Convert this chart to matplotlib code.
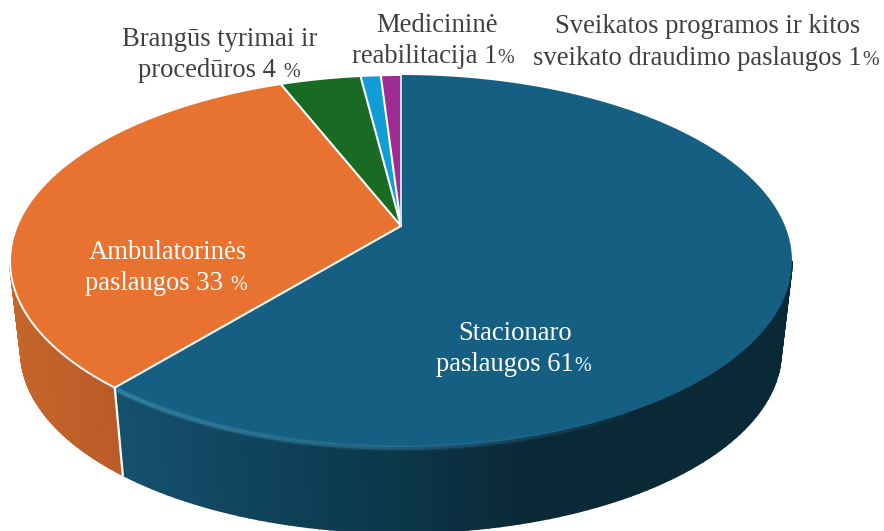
import numpy as np
import matplotlib
matplotlib.use("Agg")
import matplotlib.pyplot as plt
from matplotlib.patches import Polygon
from matplotlib.collections import LineCollection
from matplotlib.colors import to_rgb

shares = [61, 33, 4, 1, 1]
top_colors = ["#156082", "#E8722F", "#196B24", "#0F9ED5", "#A02B93"]
wall_stops = {
    0: ([122, 300, 540, 790], ["#15506D", "#0E3F57", "#0A2836", "#0A2836"]),
    1: ([10, 120], ["#C4652C", "#BA5B28"]),
}
labels_out = [
    ("Brangūs tyrimai ir", "", 122, 46),
    ("procedūros 4 ", "%", 138, 77),
    ("Medicininė", "", 376, 32),
    ("reabilitacija 1", "%", 352, 63),
    ("Sveikatos programos ir kitos", "", 555, 33),
    ("sveikato draudimo paslaugos 1", "%", 533, 65),
]
labels_in = [
    ("Ambulatorinės", "", 89, 259),
    ("paslaugos 33 ", "%", 85, 290),
    ("Stacionaro", "", 458, 340),
    ("paslaugos 61", "%", 436, 371),
]

CX, APEX_Y, A, B, K = 401, 226, 384, 179.4, 0.188
WALL_SCALE, WALL_APEX_Y = 0.972, 318


def rim(theta, scale=1.0, apex=APEX_Y):
    """Project clockwise-from-north angles onto the tilted pie plane."""
    x, y = np.sin(theta), np.cos(theta)
    d = 1 + K * y
    return CX + scale * A * x / d, apex - scale * B * y / d


fig = plt.figure(figsize=(8.84, 5.31), dpi=100)
ax = fig.add_axes([0, 0, 1, 1])
ax.set_xlim(0, 884)
ax.set_ylim(531, 0)
ax.axis("off")

edges = 2 * np.pi * np.cumsum([0] + shares) / sum(shares)
tan_r = np.arccos(-K)
tan_l = 2 * np.pi - tan_r

# side walls
for i, stops in wall_stops.items():
    lo, hi = max(edges[i], tan_r), min(edges[i + 1], tan_l)
    th = np.linspace(lo, hi, 90)
    xs, cols = stops
    rgb = np.array([to_rgb(c) for c in cols])
    for a, b in zip(th[:-1], th[1:]):
        seg = np.array([a, b])
        xt, yt = rim(seg)
        xb, yb = rim(seg, WALL_SCALE, WALL_APEX_Y)
        xm = xt.mean()
        c = [np.interp(xm, xs, rgb[:, j]) for j in range(3)]
        ax.add_patch(Polygon(np.c_[np.r_[xt, xb[::-1]], np.r_[yt, yb[::-1]]],
                             closed=True, fc=c, ec=c, lw=1.2, zorder=2))

# top faces
for i, col in enumerate(top_colors):
    th = np.linspace(edges[i], edges[i + 1], 240)
    xr, yr = rim(th)
    ax.add_patch(Polygon(np.c_[np.r_[CX, xr], np.r_[APEX_Y, yr]], closed=True,
                         fc=col, ec="none", zorder=3))

# bevel highlight along the front of the large slice
th = np.linspace(edges[1], 2.6, 120)
xr, yr = rim(th)
pts = np.c_[xr, yr + 1].reshape(-1, 1, 2)
segs = np.concatenate([pts[:-1], pts[1:]], axis=1)
fade = np.linspace(1, 0, len(segs)) ** 0.8
for lw, alpha in [(4.5, 0.3), (2.5, 0.6)]:
    colors = [(0.25, 0.56, 0.69, alpha * f) for f in fade]
    ax.add_collection(LineCollection(segs, colors=colors, linewidths=lw, zorder=4))

# white separators
for e in edges[1:-1]:
    xr, yr = rim(np.array([e]))
    ax.plot([CX, xr[0]], [APEX_Y, yr[0]], color="white", lw=1.5, zorder=5,
            solid_capstyle="round")
ax.plot([CX, CX], [APEX_Y, 75], color="#DDE6EC", lw=1.3, zorder=5)
th = np.linspace(edges[1], edges[5], 300)
xr, yr = rim(th)
ax.plot(xr, yr, color="white", lw=1.4, zorder=5)
xa, ya = rim(np.array([edges[1]]))
xb, yb = rim(np.array([edges[1]]), WALL_SCALE, WALL_APEX_Y)
ax.plot([xa[0], xb[0]], [ya[0], yb[0]], color="white", lw=1.6, zorder=5)

# labels
FONT = "Liberation Serif"
fig.canvas.draw()
renderer = fig.canvas.get_renderer()


def put(rows, color):
    for main, pct, x, y in rows:
        t = ax.text(x, y, main, family=FONT, fontsize=19.2, color=color,
                    ha="left", va="baseline", zorder=6)
        if pct:
            bb = t.get_window_extent(renderer)
            ax.text(bb.x1 + 0.5, y, pct, family=FONT, fontsize=14.5, color=color,
                    ha="left", va="baseline", zorder=6)


put(labels_out, "#404040")
put(labels_in, "white")

fig.savefig("out.png", dpi=100)
